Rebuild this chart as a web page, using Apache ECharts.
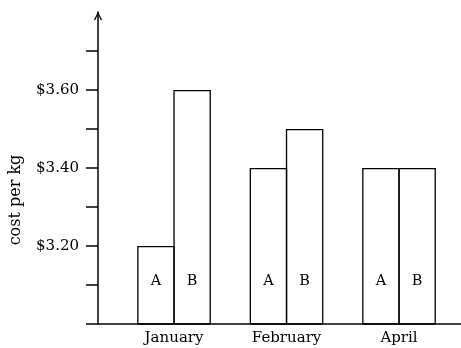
<!DOCTYPE html>
<html>
<head>
<meta charset="utf-8">
<script src="https://cdn.jsdelivr.net/npm/echarts@6/dist/echarts.min.js"></script>
<style>html,body{margin:0;padding:0;background:#fff}#c{width:461px;height:348px}</style>
</head>
<body>
<div id="c"></div>
<script>
const categories = ['January', 'February', 'April'];
const seriesA = [3.20, 3.40, 3.40];
const seriesB = [3.60, 3.50, 3.40];
const seriesNames = ['A', 'B'];
const yTickValues = [3.0, 3.1, 3.2, 3.3, 3.4, 3.5, 3.6, 3.7];
const yLabelValues = [3.2, 3.4, 3.6];
const yAxisName = 'cost per kg';

const font = 'DejaVu Serif';
const chart = echarts.init(document.getElementById('c'));
const catPos = categories.map((c, i) => i + 1);
function mk(name, vals) {
  return {
    name: name, type: 'bar', barWidth: 37.5, barGap: '-3.5%',
    data: vals.map((v, i) => [catPos[i], v]),
    itemStyle: { color: 'rgba(255,255,255,0)', borderColor: '#000', borderWidth: 1.3 },
    label: { show: true, position: 'insideBottom', distance: 36, formatter: name,
      fontFamily: font, fontSize: 14.5, color: '#000' },
    emphasis: { disabled: true }, silent: true
  };
}
chart.setOption({
  animation: false,
  grid: { left: 98, right: 0, top: 12, bottom: 24, containLabel: false },
  xAxis: {
    type: 'value', min: 0.324, max: 3.551,
    splitLine: { show: false },
    axisLine: { show: true, lineStyle: { color: '#000', width: 1.5 } },
    axisTick: { show: false },
    axisLabel: { show: true, customValues: catPos, margin: 7,
      formatter: v => categories[Math.round(v) - 1] || '',
      fontFamily: font, fontSize: 15, color: '#000' }
  },
  yAxis: {
    type: 'value', min: 3.0, max: 3.8,
    name: yAxisName, nameLocation: 'middle', nameGap: 74,
    nameTextStyle: { fontFamily: font, fontSize: 16, color: '#000', padding: [0, 64, 0, 0] },
    splitLine: { show: false },
    axisLine: { show: true, lineStyle: { color: '#000', width: 1.5 },
      symbol: ['none', 'path://M0,10 L5,0 L10,10 L8.4,10.8 L5,3.2 L1.6,10.8 Z'], symbolSize: [8, 10], symbolOffset: [0, -4] },
    axisTick: { show: true, customValues: yTickValues, length: 12, lineStyle: { color: '#000', width: 1.5 } },
    axisLabel: { show: true, customValues: yLabelValues, margin: 19,
      formatter: v => '$' + v.toFixed(2), fontFamily: font, fontSize: 15, color: '#000' }
  },
  series: [mk(seriesNames[0], seriesA), mk(seriesNames[1], seriesB)]
});
</script>
</body>
</html>
